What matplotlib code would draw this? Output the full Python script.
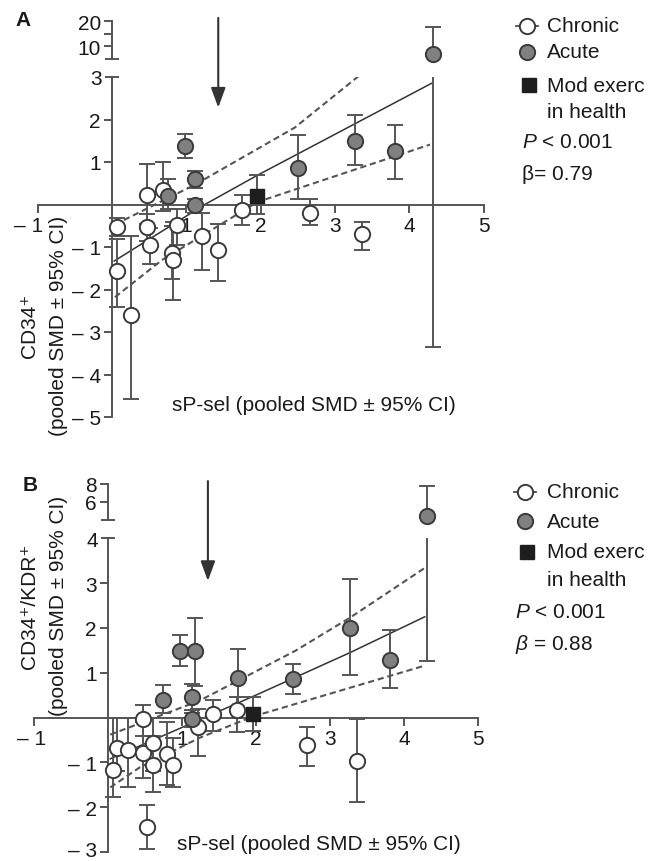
import matplotlib
matplotlib.use("Agg")
import matplotlib.pyplot as plt
from matplotlib.lines import Line2D
from matplotlib.transforms import ScaledTranslation
import numpy as np

plt.rcParams["font.family"] = ["Liberation Sans", "DejaVu Sans"]
plt.rcParams["font.size"] = 15
plt.rcParams["mathtext.fontset"] = "custom"
plt.rcParams["mathtext.rm"] = "Liberation Sans"
plt.rcParams["mathtext.it"] = "Liberation Sans:italic"

# ---- Panel A: CD34+ vs sP-sel (pooled SMD, 95% CI) ----
a_chr_x = [0.47, 0.69, 0.07, 0.47, 0.87, 0.51, 0.81, 0.82, 1.21, 1.43, 0.07, 0.26, 1.75, 2.66, 3.36]
a_chr_y = [0.23, 0.35, -0.54, -0.52, -0.49, -0.96, -1.13, -1.31, -0.75, -1.08, -1.57, -2.61, -0.12, -0.19, -0.70]
a_chr_lo = [-0.45, -0.15, -0.75, -0.85, -0.95, -1.41, -1.76, -2.25, -1.53, -1.81, -2.42, -4.58, -0.49, -0.49, -1.08]
a_chr_hi = [0.95, 0.99, -0.31, -0.22, -0.10, -0.55, -0.50, -0.40, -0.20, -0.45, -0.82, -0.73, 0.23, 0.12, -0.42]

a_acu_x = [0.75, 0.98, 1.12, 1.12, 2.50, 3.27, 3.81, 4.32]
a_acu_y = [0.21, 1.38, 0.59, -0.02, 0.87, 1.50, 1.27, 6.8]
a_acu_lo = [-0.10, 1.10, 0.40, -0.20, 0.12, 0.92, 0.59, -3.36]
a_acu_hi = [0.60, 1.67, 0.80, 0.12, 1.64, 2.11, 1.88, 17.6]

a_mod_x, a_mod_y, a_mod_lo, a_mod_hi = [1.95], [0.21], [-0.23], [0.70]

a_fit_x = [0.03, 1.25, 1.97, 4.31]
a_fit_y = [-1.33, 0.0, 0.70, 2.86]
a_ci_up_x = [0.04, 1.12, 2.46, 3.34]
a_ci_up_y = [-0.47, 0.47, 1.81, 3.05]
a_ci_lo_x = [0.04, 0.67, 1.96, 4.28]
a_ci_lo_y = [-2.18, -1.31, 0.06, 1.41]
a_arrow_x, a_arrow_from, a_arrow_to = 1.43, 4.39, 2.28

# ---- Panel B: CD34+/KDR+ vs sP-sel ----
b_chr_x = [0.47, 0.12, 0.07, 0.27, 0.47, 0.61, 0.61, 0.80, 0.88, 1.22, 1.42, 1.74, 2.69, 3.36, 0.53]
b_chr_y = [-0.04, -0.67, -1.16, -0.73, -0.78, -0.56, -1.05, -0.82, -1.05, -0.22, 0.07, 0.18, -0.62, -0.96, -2.45]
b_chr_lo = [-0.40, -1.20, -1.78, -1.55, -1.35, -1.20, -1.67, -1.50, -1.54, -0.85, -0.30, -0.33, -1.07, -1.89, -2.94]
b_chr_hi = [0.29, 0.00, 0.00, 0.00, -0.10, 0.00, -0.40, -0.10, -0.45, 0.20, 0.40, 0.45, -0.20, -0.04, -1.94]

b_acu_x = [0.97, 1.18, 0.74, 1.14, 1.14, 1.76, 2.50, 3.27, 3.81, 4.31]
b_acu_y = [1.49, 1.49, 0.40, 0.45, -0.04, 0.89, 0.87, 2.00, 1.29, 4.44]
b_acu_lo = [1.16, 0.71, 0.11, 0.18, -0.20, 0.18, 0.53, 0.94, 0.65, 1.27]
b_acu_hi = [1.85, 2.23, 0.73, 0.75, 0.10, 1.54, 1.20, 3.10, 1.96, 7.8]

b_mod_x, b_mod_y, b_mod_lo, b_mod_hi = [1.96], [0.07], [-0.30], [0.47]

b_fit_x = [0.03, 2.01, 3.27, 4.28]
b_fit_y = [-0.92, 0.51, 1.45, 2.25]
b_ci_up_x = [0.03, 1.24, 2.53, 3.27, 4.28]
b_ci_up_y = [-0.38, 0.38, 1.49, 2.23, 3.34]
b_ci_lo_x = [0.03, 0.43, 1.24, 1.95, 4.28]
b_ci_lo_y = [-1.56, -1.11, -0.45, 0.02, 1.16]
b_arrow_x, b_arrow_from, b_arrow_to = 1.35, 5.28, 3.05

x_ticks = [-1, 1, 2, 3, 4, 5]
x_labels = ["– 1", "1", "2", "3", "4", "5"]
a_yticks = [-5, -4, -3, -2, -1, 1, 2]
a_ylabels = ["– 5", "– 4", "– 3", "– 2", "– 1", "1", "2"]
a_top_ticks = [10, 15, 20]
a_top_labels = ["10", "", "20"]
b_yticks = [-3, -2, -1, 1, 2, 3]
b_ylabels = ["– 3", "– 2", "– 1", "1", "2", "3"]
b_top_ticks = [6, 8]
b_top_labels = ["6", "8"]

AXIS = "#555555"
BAR = "#555555"
EDGE = "#3a3a3a"
ACUTE = "#808080"
INK = "#1a1a1a"

W, H = 659, 862


def rect(left, right, top, bottom):
    return [left / W, 1 - bottom / H, (right - left) / W, (bottom - top) / H]


def fx(px):
    return px / W


def fy(py):
    return 1 - py / H


CHRONIC = dict(marker="o", ms=11, mfc="white", mec=EDGE, mew=1.4)
ACUTE_MK = dict(marker="o", ms=11, mfc=ACUTE, mec=EDGE, mew=1.4)
MOD = dict(marker="s", ms=9.5, mfc="#1e1e1e", mec="#1e1e1e", mew=1.0)


def nudge(lbl, dx, dy):
    lbl.set_transform(lbl.get_transform()
                      + ScaledTranslation(dx / 100, dy / 100, fig.dpi_scale_trans))


def style_lower(ax, ylim, yticks, ylabels, top_tick, shift_first):
    ax.set_xlim(-1, 5)
    ax.set_ylim(*ylim)
    ax.patch.set_visible(False)
    for s in ("top", "right"):
        ax.spines[s].set_visible(False)
    for s in ("left", "bottom"):
        ax.spines[s].set_position(("data", 0))
        ax.spines[s].set_color(AXIS)
        ax.spines[s].set_linewidth(1.4)
    ax.set_xticks(x_ticks, x_labels)
    ax.set_yticks(yticks, ylabels)
    ax.set_yticks([top_tick], [str(top_tick)], minor=True)
    ax.tick_params(direction="out", length=6, width=1.4, color=AXIS,
                   pad=2, labelsize=15, labelcolor=INK)
    ax.tick_params(axis="y", which="minor", direction="inout", length=10,
                   width=1.4, color=AXIS, pad=2, labelsize=15, labelcolor=INK)
    # the "-1" label at the far left sits a little left of its tick
    nudge(ax.xaxis.get_major_ticks()[0].label1, shift_first, 0)


def style_upper(ax, ylim, yticks, ylabels):
    ax.set_xlim(-1, 5)
    ax.set_ylim(*ylim)
    ax.patch.set_visible(False)
    for s in ("top", "right", "bottom"):
        ax.spines[s].set_visible(False)
    ax.spines["left"].set_position(("data", 0))
    ax.spines["left"].set_color(AXIS)
    ax.spines["left"].set_linewidth(1.4)
    ax.set_xticks([])
    ax.set_yticks(yticks, ylabels)
    ax.set_yticks([ylim[0]], [""], minor=True)
    ax.tick_params(axis="y", direction="out", length=6, width=1.4, color=AXIS,
                   pad=2, labelsize=15, labelcolor=INK)
    ax.tick_params(axis="y", which="minor", direction="inout", length=10,
                   width=1.4, color=AXIS)


def plot_group(ax_lo, ax_hi, x, y, lo, hi, mk):
    x, y, lo, hi = (np.asarray(v, dtype=float) for v in (x, y, lo, hi))
    err = [y - lo, hi - y]
    for ax in (ax_lo, ax_hi):
        ax.errorbar(x, y, yerr=err, fmt="none", ecolor=BAR, elinewidth=1.4,
                    capsize=6, capthick=1.4, zorder=2.6)
    inside = y <= ax_lo.get_ylim()[1]
    ax_lo.plot(x[inside], y[inside], linestyle="none", zorder=3, clip_on=False, **mk)
    ax_hi.plot(x[~inside], y[~inside], linestyle="none", zorder=3, clip_on=False, **mk)


def fit_lines(ax, fx_, fy_, ux, uy, lx, ly):
    ax.plot(fx_, fy_, color="#333333", lw=1.1, zorder=2.4)
    for xs, ys in ((ux, uy), (lx, ly)):
        ax.plot(xs, ys, color=AXIS, lw=1.5, ls=(0, (3, 1.8)), zorder=2.4)


def arrow(ax, x, y0, y1):
    ann = ax.annotate("", xy=(x, y1), xytext=(x, y0), annotation_clip=False,
                      arrowprops=dict(arrowstyle="-|>,head_length=0.6,head_width=0.22",
                                      mutation_scale=20, color="#333333", lw=1.5,
                                      shrinkA=0, shrinkB=0))
    ann.arrow_patch.set_clip_on(False)


def fig_marker(fig, x, y, mk, line=False):
    if line:
        art = Line2D([fx(x - 11), fx(x), fx(x + 11)], [fy(y)] * 3, color=EDGE,
                     lw=1.2, markevery=[1], transform=fig.transFigure, **mk)
    else:
        art = Line2D([fx(x)], [fy(y)], linestyle="none",
                     transform=fig.transFigure, **mk)
    fig.add_artist(art)


def legend(fig, mx, tx, ys, sx, yp, yb, beta):
    fig_marker(fig, mx, ys[0], CHRONIC, line=True)
    fig_marker(fig, mx, ys[1], ACUTE_MK)
    fig_marker(fig, mx + 2, ys[2], MOD)
    for txt, y in zip(["Chronic", "Acute", "Mod exerc", "in health"], ys):
        fig.text(fx(tx), fy(y), txt, ha="left", va="center", color=INK)
    fig.text(fx(sx), fy(yp), "$P$ < 0.001", ha="left", va="center", color=INK)
    fig.text(fx(sx), fy(yb), beta, ha="left", va="center", color=INK)


def ylabel(fig, first, yc):
    fig.text(fx(30), fy(yc), first, rotation=90, ha="center", va="center", color=INK)
    fig.text(fx(58), fy(yc), "(pooled SMD ± 95% CI)", rotation=90,
             ha="center", va="center", color=INK)


fig = plt.figure(figsize=(W / 100, H / 100), dpi=100)
ax_a = fig.add_axes(rect(37.7, 483.5, 78, 418))
ax_a_top = fig.add_axes(rect(37.7, 483.5, 22.3, 59.5))
ax_b = fig.add_axes(rect(34, 478, 539.4, 853))
ax_b_top = fig.add_axes(rect(34, 478, 485, 521))

style_lower(ax_a, (-5, 3), a_yticks, a_ylabels, 3, -9)
style_upper(ax_a_top, (5, 20), a_top_ticks, a_top_labels)
style_lower(ax_b, (-3, 4), b_yticks, b_ylabels, 4, -2)
style_upper(ax_b_top, (4, 8), b_top_ticks, b_top_labels)
# keep the bottom "-3" label inside the canvas
nudge(ax_b.yaxis.get_major_ticks()[0].label1, 0, 3)

# panel A
fit_lines(ax_a, a_fit_x, a_fit_y, a_ci_up_x, a_ci_up_y, a_ci_lo_x, a_ci_lo_y)
plot_group(ax_a, ax_a_top, a_chr_x, a_chr_y, a_chr_lo, a_chr_hi, CHRONIC)
plot_group(ax_a, ax_a_top, a_acu_x, a_acu_y, a_acu_lo, a_acu_hi, ACUTE_MK)
plot_group(ax_a, ax_a_top, a_mod_x, a_mod_y, a_mod_lo, a_mod_hi, MOD)
arrow(ax_a, a_arrow_x, a_arrow_from, a_arrow_to)

# panel B
fit_lines(ax_b, b_fit_x, b_fit_y, b_ci_up_x, b_ci_up_y, b_ci_lo_x, b_ci_lo_y)
plot_group(ax_b, ax_b_top, b_chr_x, b_chr_y, b_chr_lo, b_chr_hi, CHRONIC)
plot_group(ax_b, ax_b_top, b_acu_x, b_acu_y, b_acu_lo, b_acu_hi, ACUTE_MK)
plot_group(ax_b, ax_b_top, b_mod_x, b_mod_y, b_mod_lo, b_mod_hi, MOD)
arrow(ax_b, b_arrow_x, b_arrow_from, b_arrow_to)

# axis titles, panel letters, legends
fig.text(fx(15), fy(21), "A", ha="left", va="center", fontweight="bold", color=INK)
fig.text(fx(23), fy(486), "B", ha="left", va="center", fontweight="bold", color=INK)
ylabel(fig, "CD34⁺", 326)
ylabel(fig, "CD34⁺/KDR⁺", 606)
fig.text(fx(314), fy(406), "sP-sel (pooled SMD ± 95% CI)", ha="center", va="center", color=INK)
fig.text(fx(319), fy(845), "sP-sel (pooled SMD ± 95% CI)", ha="center", va="center", color=INK)

legend(fig, 527, 547, [27, 53, 86, 112], 522, 142, 175, "β= 0.79")
legend(fig, 525, 547, [493, 522, 553, 580], 515, 613, 645, "$\\beta$ = 0.88")

fig.savefig("out.png", dpi=100, facecolor="white")
